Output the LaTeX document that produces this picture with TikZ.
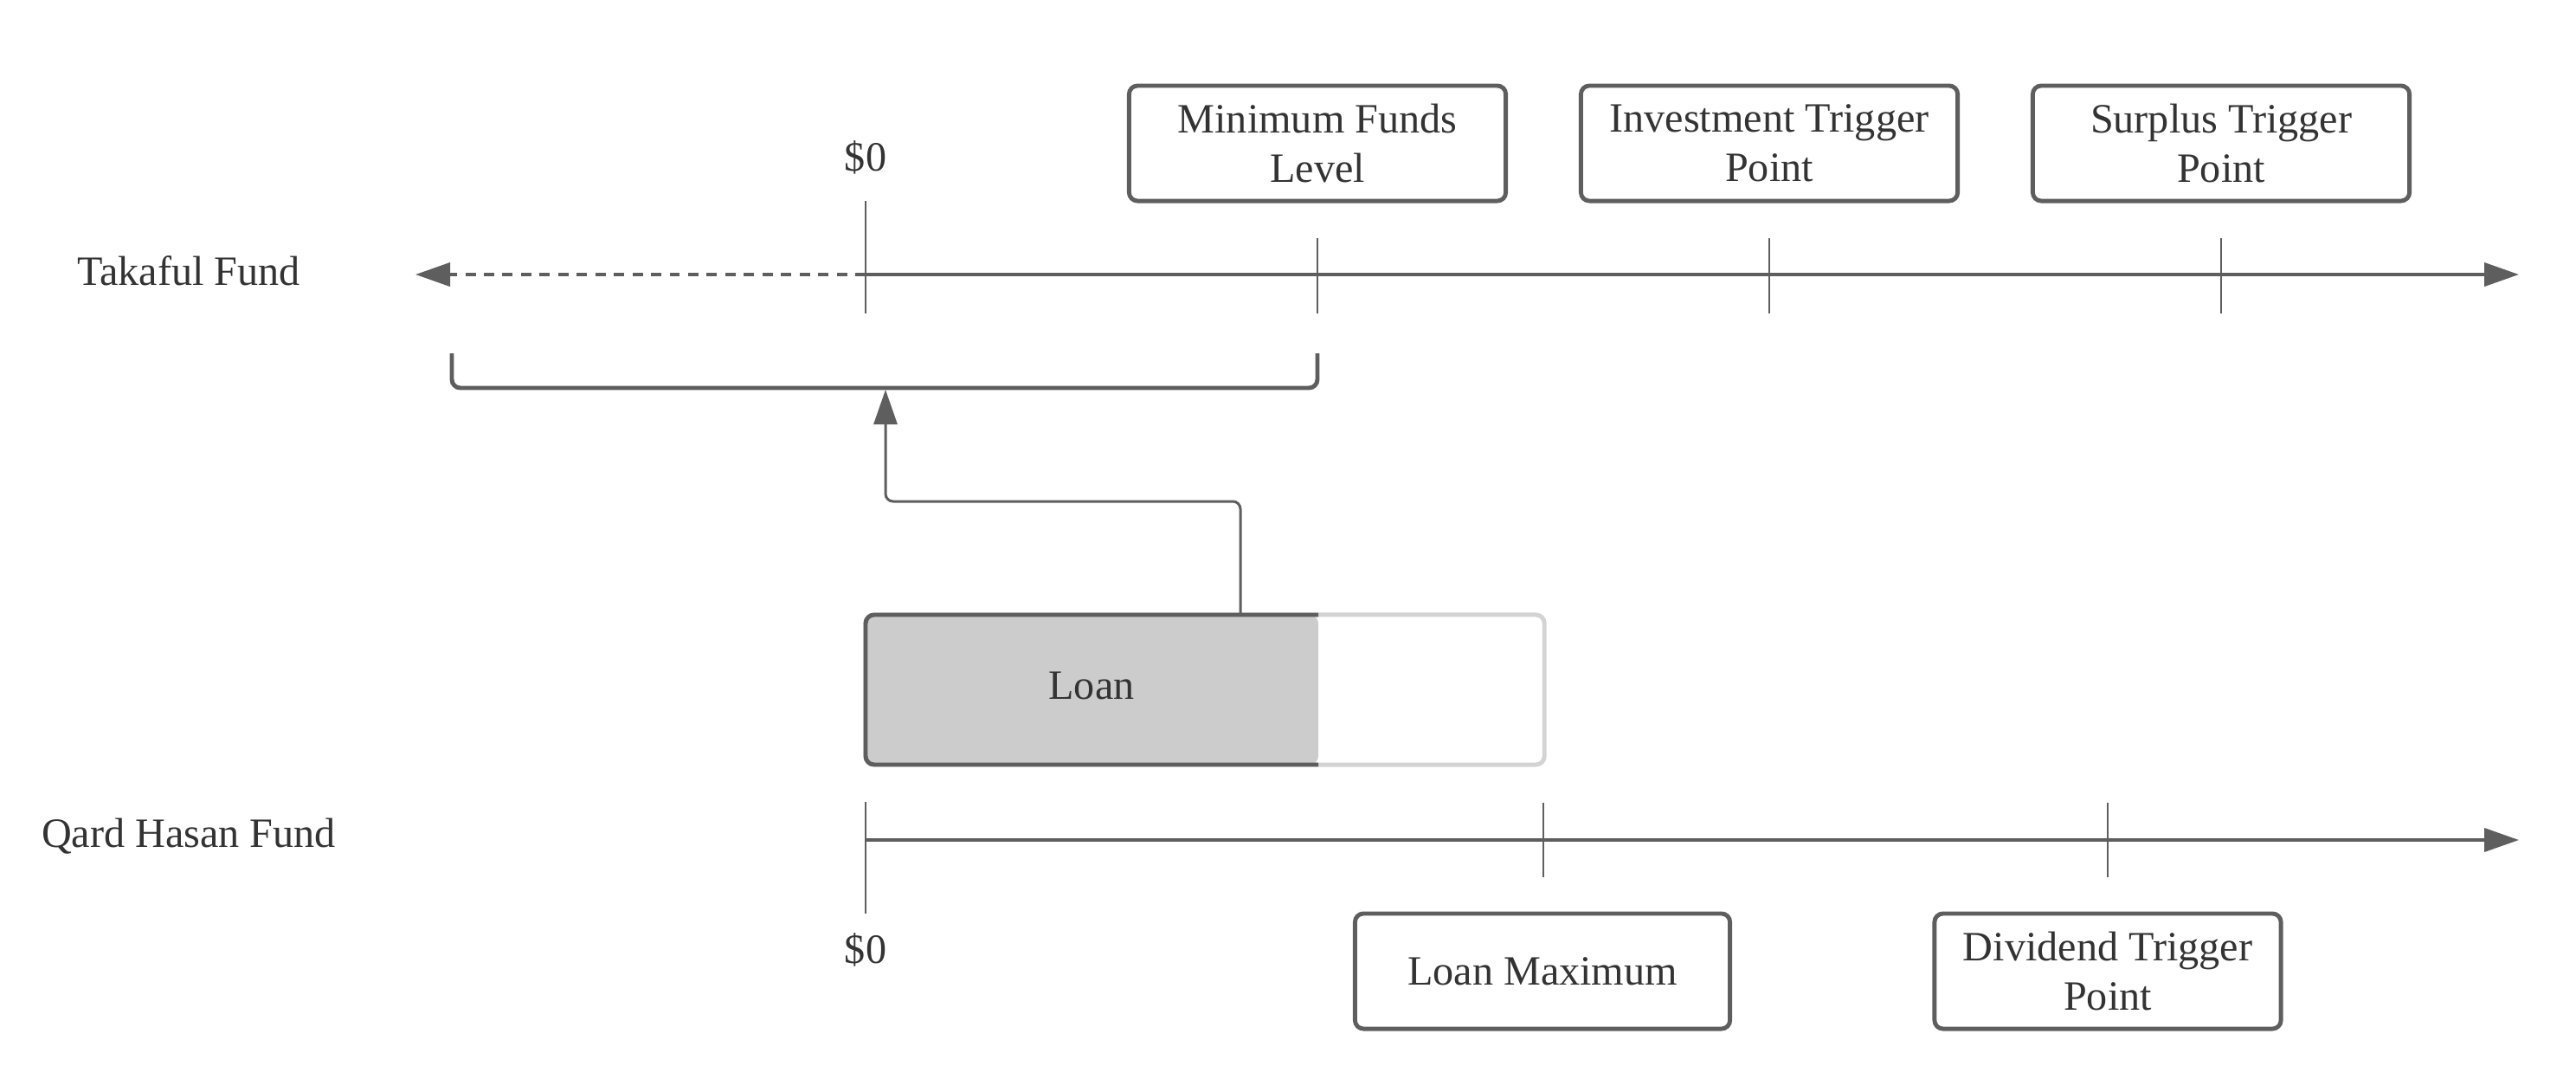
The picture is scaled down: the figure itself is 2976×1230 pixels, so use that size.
\documentclass[tikz,border=0pt]{standalone}
\usepackage{fontspec}
\setmainfont{Liberation Serif}
\usetikzlibrary{arrows.meta,calc}
\definecolor{ln}{HTML}{5E5E5E}
\definecolor{tx}{HTML}{333333}
\definecolor{lt}{HTML}{D3D3D3}
\definecolor{fillg}{HTML}{CCCCCC}
\begin{document}
\begin{tikzpicture}[x=0.01cm,y=-0.01cm,
  every node/.style={text=tx,font=\fontsize{13.7pt}{16.2pt}\selectfont},
  lbl/.style={inner sep=0pt},
  markbox/.style={draw=ln,line width=1.4pt,rounded corners=2.8pt,minimum height=1.33cm,align=center,inner sep=0pt},
  axisline/.style={draw=ln,line width=1.1pt},
  tick/.style={draw=ln,line width=0.7pt},
  tip/.style={-{Triangle[length=0.4cm,width=0.27cm]}},
  conn/.style={draw=ln,line width=0.85pt,rounded corners=2.5pt}
]
\useasboundingbox (0,0) rectangle (2976,1230);

% labels
\node[lbl] (tf) at (218,313) {Takaful Fund};
\node[lbl] (qh) at (218,966) {Qard Hasan Fund};

% Takaful axis
\coordinate (tleft) at (480,317);
\coordinate (tzero) at (1000,317);
\coordinate (tright) at (2910,317);
\draw[axisline,tip,dash pattern=on 3.4pt off 2.7pt] (tzero) -- (tleft);
\draw[axisline,tip] (tzero) -- (tright);
\coordinate (tz1) at (1000,232); \coordinate (tz2) at (1000,362);
\draw[tick] (tz1) -- (tz2);
\foreach \x/\n in {1522/ta,2044/tb,2566/tc}{
  \coordinate (\n1) at (\x,275); \coordinate (\n2) at (\x,362);
  \draw[tick] (\n1) -- (\n2);
}
\node[lbl] (tzl) at (1000,182) {\$0};

\node[markbox,minimum width=4.35cm] (mfl) at (1522,165.5) {Minimum Funds\\Level};
\node[markbox,minimum width=4.35cm] (itp) at (2044,165.5) {Investment Trigger\\Point};
\node[markbox,minimum width=4.35cm] (stp) at (2566,165.5) {Surplus Trigger\\Point};

% bracket
\coordinate (b1) at (522,408);
\coordinate (b2) at (522,448);
\coordinate (b3) at (1522,448);
\coordinate (b4) at (1522,408);
\coordinate (btgt) at (1023,450);
\draw[draw=ln,line width=1.4pt,rounded corners=2.8pt] (b1) -- (b2) -- (b3) -- (b4);

% loan bar
\node[draw=lt,line width=1.4pt,rounded corners=2.8pt,minimum width=7.84cm,minimum height=1.73cm,inner sep=0pt] (loanmax) at (1392,796.5) {};
\coordinate (la) at (1523,710);
\coordinate (lb) at (1000,710);
\coordinate (lc) at (1000,883);
\coordinate (ld) at (1523,883);
\fill[fillg,rounded corners=2.8pt] (la) -- (lb) -- (lc) -- (ld) -- cycle;
\draw[draw=ln,line width=1.4pt,rounded corners=2.8pt] (la) -- (lb) -- (lc) -- (ld);
\node[lbl] (loan) at (1261,792) {Loan};

% connector
\coordinate (cstart) at (1433,710);
\coordinate (cmid) at (1433,579);
\draw[conn,tip] (cstart) -- (cmid) -- (cmid -| btgt) -- (btgt);

% Qard Hasan axis
\coordinate (qzero) at (1000,970);
\coordinate (qright) at (2910,970);
\draw[axisline,tip] (qzero) -- (qright);
\coordinate (qz1) at (1000,926); \coordinate (qz2) at (1000,1055);
\draw[tick] (qz1) -- (qz2);
\foreach \x/\n in {1783/qa,2435/qb}{
  \coordinate (\n1) at (\x,927); \coordinate (\n2) at (\x,1013);
  \draw[tick] (\n1) -- (\n2);
}
\node[lbl] (qzl) at (1000,1097) {\$0};

\node[markbox,minimum width=4.33cm] (lm) at (1782,1121.5) {Loan Maximum};
\node[markbox,minimum width=4.0cm] (dtp) at (2435,1121.5) {Dividend Trigger\\Point};
\end{tikzpicture}
\end{document}
